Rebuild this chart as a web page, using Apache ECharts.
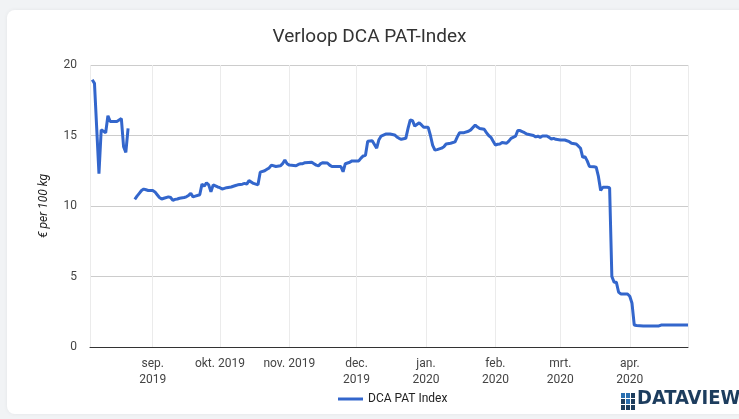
<!DOCTYPE html>
<html>
<head>
<meta charset="utf-8">
<script src="https://cdn.jsdelivr.net/npm/echarts@6/dist/echarts.min.js"></script>
<style>
html,body{margin:0;padding:0;background:#f1f3f5;}
#c{width:739px;height:419px;}
</style>
</head>
<body>
<div id="c"></div>
<script>
// ---- data ----
const dates = [
 '2019-08-05','2019-08-06','2019-08-08','2019-08-09','2019-08-10','2019-08-11','2019-08-12','2019-08-13','2019-08-14','2019-08-15','2019-08-16','2019-08-17','2019-08-18','2019-08-19','2019-08-20','2019-08-21',
 '2019-08-22',
 '2019-08-24','2019-08-25','2019-08-26','2019-08-27','2019-08-28','2019-08-29','2019-08-30','2019-08-31','2019-09-01','2019-09-02','2019-09-03','2019-09-04','2019-09-05','2019-09-06','2019-09-08','2019-09-09','2019-09-10','2019-09-11','2019-09-12','2019-09-13','2019-09-15','2019-09-16','2019-09-17','2019-09-18','2019-09-19','2019-09-20','2019-09-22','2019-09-23','2019-09-24','2019-09-25','2019-09-26','2019-09-27','2019-09-28','2019-09-30',
 '2019-10-01','2019-10-02','2019-10-04','2019-10-06','2019-10-07','2019-10-08','2019-10-09','2019-10-11','2019-10-12','2019-10-13','2019-10-14','2019-10-16','2019-10-18','2019-10-19','2019-10-21','2019-10-22','2019-10-23','2019-10-24','2019-10-26','2019-10-28','2019-10-29','2019-10-30','2019-10-31',
 '2019-11-01','2019-11-04','2019-11-05','2019-11-06','2019-11-07','2019-11-08','2019-11-11','2019-11-12','2019-11-13','2019-11-14','2019-11-15','2019-11-16','2019-11-18','2019-11-19','2019-11-20','2019-11-22','2019-11-24','2019-11-25','2019-11-26','2019-11-28','2019-11-29',
 '2019-12-02','2019-12-03','2019-12-04','2019-12-05','2019-12-06','2019-12-08','2019-12-10','2019-12-11','2019-12-12','2019-12-14','2019-12-16','2019-12-18','2019-12-19','2019-12-20','2019-12-21','2019-12-23','2019-12-24','2019-12-25','2019-12-26','2019-12-27','2019-12-29','2019-12-30','2019-12-31',
 '2020-01-01','2020-01-02','2020-01-03','2020-01-04','2020-01-05','2020-01-06','2020-01-08','2020-01-09','2020-01-10','2020-01-12','2020-01-14','2020-01-15','2020-01-16','2020-01-18','2020-01-20','2020-01-21','2020-01-23','2020-01-24','2020-01-25','2020-01-27','2020-01-28','2020-01-29','2020-01-30','2020-01-31',
 '2020-02-01','2020-02-02','2020-02-03','2020-02-04','2020-02-06','2020-02-07','2020-02-08','2020-02-10','2020-02-11','2020-02-12','2020-02-13','2020-02-14','2020-02-15','2020-02-17','2020-02-18','2020-02-19','2020-02-20','2020-02-21','2020-02-22','2020-02-24','2020-02-25','2020-02-26','2020-02-27','2020-02-28',
 '2020-03-01','2020-03-03','2020-03-05','2020-03-06','2020-03-08','2020-03-09','2020-03-10','2020-03-11','2020-03-12','2020-03-13','2020-03-14','2020-03-16','2020-03-17','2020-03-18','2020-03-19','2020-03-20','2020-03-22','2020-03-23','2020-03-24','2020-03-25','2020-03-26','2020-03-27','2020-03-28','2020-03-31',
 '2020-04-01','2020-04-02','2020-04-03','2020-04-04','2020-04-07','2020-04-14','2020-04-15','2020-04-27'
];
const patIndex = [
 18.95,18.7,12.3,15.4,15.3,15.2,16.4,16.0,16.0,16.0,16.0,16.1,16.2,14.2,13.8,15.5,
 null,
 10.47,10.7,10.9,11.1,11.2,11.15,11.1,11.1,11.1,11.0,10.8,10.6,10.5,10.55,10.65,10.6,10.4,10.47,10.5,10.55,10.6,10.65,10.75,10.9,10.65,10.7,10.8,11.55,11.4,11.65,11.5,11.0,11.5,11.35,
 11.3,11.2,11.3,11.35,11.4,11.45,11.5,11.55,11.6,11.55,11.8,11.6,11.5,12.4,12.5,12.6,12.7,12.9,12.8,12.85,13.0,13.26,13.0,
 12.9,12.85,12.95,13.0,13.0,13.07,13.1,13.0,12.9,12.85,13.0,13.07,13.05,12.9,12.8,12.8,12.8,12.43,13.0,13.1,13.2,
 13.2,13.4,13.55,13.6,14.6,14.63,14.1,14.7,14.96,15.1,15.1,15.04,14.9,14.8,14.73,14.8,15.5,16.1,16.05,15.67,15.9,15.75,15.58,
 15.58,15.58,15.0,14.3,13.97,14.0,14.1,14.2,14.4,14.45,14.55,14.9,15.2,15.2,15.3,15.4,15.74,15.6,15.5,15.44,15.2,15.0,14.87,14.6,
 14.33,14.38,14.4,14.5,14.45,14.6,14.8,14.95,15.35,15.35,15.27,15.2,15.1,15.04,15.0,14.9,14.95,14.87,14.96,14.96,14.87,14.75,14.8,14.73,
 14.68,14.68,14.56,14.45,14.4,14.26,14.1,13.45,13.5,13.2,12.8,12.78,12.75,12.1,11.1,11.33,11.33,11.3,5.0,4.6,4.6,3.9,3.76,3.76,
 3.6,3.1,1.56,1.52,1.49,1.49,1.56,1.56
];
const tickMonths = ['2019-09','2019-10','2019-11','2019-12','2020-01','2020-02','2020-03','2020-04'];
const tickLabels = ['sep.\n2019','okt. 2019','nov. 2019','dec.\n2019','jan.\n2020','feb.\n2020','mrt.\n2020','apr.\n2020'];
const yTicks = [0, 5, 10, 15, 20];

const seriesData = dates.map((d, i) => [d, patIndex[i]]);
const DAY = 24 * 3600 * 1000;
const font = 'Roboto, "Open Sans", sans-serif';

const chart = echarts.init(document.getElementById('c'), null, {renderer: 'canvas'});
chart.setOption({
  backgroundColor: 'transparent',
  animation: false,
  title: {
    text: 'Verloop DCA PAT-Index',
    left: 'center', top: 23,
    textStyle: {fontFamily: font, fontSize: 19, fontWeight: 'normal', color: '#333'}
  },
  grid: {left: 90, right: 51, top: 65, bottom: 72, containLabel: false},
  legend: {
    data: ['DCA PAT Index'],
    left: 333, top: 388,
    icon: 'rect', itemWidth: 25, itemHeight: 3, itemGap: 5,
    textStyle: {fontFamily: font, fontSize: 12, color: '#222'}
  },
  xAxis: {
    type: 'time',
    min: '2019-08-04', max: '2020-04-27',
    minInterval: 28 * DAY, maxInterval: 31 * DAY,
    axisLine: {show: true, onZero: false, lineStyle: {color: '#333', width: 1}},
    axisTick: {show: false},
    splitLine: {show: true, lineStyle: {color: '#ebebeb', width: 1}},
    axisLabel: {
      fontFamily: font, fontSize: 12, color: '#444', lineHeight: 16, margin: 9,
      hideOverlap: false, showMinLabel: false, showMaxLabel: false,
      formatter: function (val) {
        const d = new Date(val);
        const key = d.getFullYear() + '-' + String(d.getMonth() + 1).padStart(2, '0');
        const idx = tickMonths.indexOf(key);
        return idx >= 0 && d.getDate() === 1 ? tickLabels[idx] : '';
      }
    }
  },
  yAxis: {
    type: 'value',
    min: yTicks[0], max: yTicks[yTicks.length - 1], interval: 5,
    name: '€ per 100 kg', nameLocation: 'middle', nameRotate: 90, nameGap: 40,
    nameTextStyle: {fontFamily: font, fontSize: 12, fontStyle: 'italic', color: '#222'},
    axisLine: {show: false}, axisTick: {show: false},
    splitLine: {lineStyle: {color: '#cccccc', width: 1}},
    axisLabel: {fontFamily: font, fontSize: 12, color: '#444', margin: 13}
  },
  series: [{
    name: 'DCA PAT Index',
    type: 'line',
    data: seriesData,
    showSymbol: false,
    connectNulls: false,
    lineStyle: {color: '#3366cc', width: 3},
    itemStyle: {color: '#3366cc'}
  }],
  graphic: [
    {type: 'rect', z: -10, silent: true, shape: {x: 7, y: 10, width: 745, height: 404, r: 8},
     style: {fill: '#ffffff', shadowBlur: 4, shadowColor: 'rgba(0,0,0,0.06)'}},
    {type: 'group', left: 621, top: 389, children: [
      {type: 'rect', shape: {x: 0, y: 1, width: 4, height: 5}, style: {fill: '#2a6fb0'}},
      {type: 'rect', shape: {x: 5, y: 1, width: 4, height: 5}, style: {fill: '#2a6fb0'}},
      {type: 'rect', shape: {x: 10, y: 1, width: 4, height: 5}, style: {fill: '#1d3d5e'}},
      {type: 'rect', shape: {x: 0, y: 7, width: 4, height: 5}, style: {fill: '#1d3d5e'}},
      {type: 'rect', shape: {x: 5, y: 7, width: 4, height: 5}, style: {fill: '#2a6fb0'}},
      {type: 'rect', shape: {x: 10, y: 7, width: 4, height: 5}, style: {fill: '#1d3d5e'}},
      {type: 'rect', shape: {x: 0, y: 13, width: 4, height: 5}, style: {fill: '#1d3d5e'}},
      {type: 'rect', shape: {x: 5, y: 13, width: 4, height: 5}, style: {fill: '#1d3d5e'}},
      {type: 'rect', shape: {x: 10, y: 13, width: 4, height: 5}, style: {fill: '#1d3d5e'}},
      {type: 'text', x: 16, y: -3, style: {text: 'DATAVIEW', fill: '#1d3d5e',
        font: 'bold 20px "DejaVu Sans Condensed", "DejaVu Sans", sans-serif'}}
    ]}
  ]
});
</script>
</body>
</html>
